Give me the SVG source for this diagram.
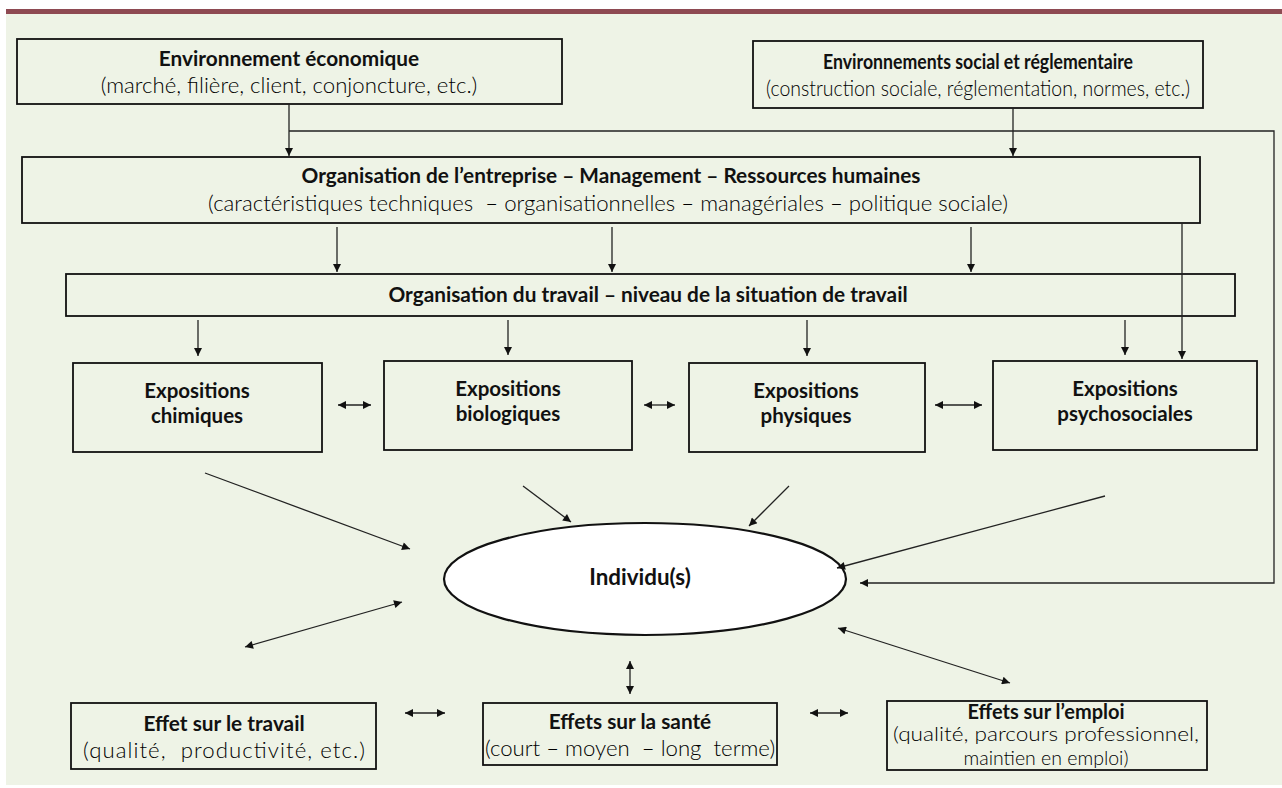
<svg xmlns="http://www.w3.org/2000/svg" width="1282" height="788" viewBox="0 0 1282 788">
<defs>
<style>
.bx{fill:none;stroke:#111;stroke-width:1.8}
.t{font-family:Lato,"Noto Sans",sans-serif;font-weight:bold;font-size:20.8px;fill:#111;text-anchor:middle}
.e{font-family:Lato,"Noto Sans",sans-serif;font-weight:bold;font-size:20.5px;fill:#111;text-anchor:middle}
.s{font-family:Lato,"Noto Sans",sans-serif;font-weight:300;font-size:22.2px;fill:#000;text-anchor:middle;white-space:pre}
.c{fill:none;stroke:#222;stroke-width:1.3}
</style>
<marker id="ah" viewBox="0 0 10 10" refX="10" refY="5" markerWidth="9" markerHeight="8" markerUnits="userSpaceOnUse" orient="auto-start-reverse">
<path d="M0,0 L10,5 L0,10 z" fill="#111"/>
</marker>
</defs>
<rect x="0" y="0" width="1282" height="788" fill="#ffffff"/>
<rect x="6" y="14" width="1276" height="771" fill="#eef3e6"/>
<rect x="6" y="9" width="1276" height="5" fill="#8e4a52"/>

<g id="env-eco">
<rect class="bx" x="17" y="39" width="545" height="65"/>
<text class="t" x="289" y="66">Environnement économique</text>
<text class="s" x="289" y="93">(marché, filière, client, conjoncture, etc.)</text>
</g>
<g id="env-social">
<rect class="bx" x="753" y="41" width="450" height="67"/>
<text class="t" x="978" y="69" textLength="310" lengthAdjust="spacingAndGlyphs">Environnements social et réglementaire</text>
<text class="s" x="978" y="96" textLength="424" lengthAdjust="spacingAndGlyphs">(construction sociale, réglementation, normes, etc.)</text>
</g>
<g id="org-entreprise">
<rect class="bx" x="22" y="157" width="1178" height="66"/>
<text class="t" x="611" y="183">Organisation de l’entreprise – Management – Ressources humaines</text>
<text class="s" x="608" y="211">(caractéristiques techniques  – organisationnelles – managériales – politique sociale)</text>
</g>
<g id="org-travail">
<rect class="bx" x="66" y="274" width="1169" height="42"/>
<text class="t" x="648" y="302">Organisation du travail – niveau de la situation de travail</text>
</g>
<g id="expo-chimiques">
<rect class="bx" x="73" y="363" width="249" height="89"/>
<text class="e" x="197" y="398">Expositions</text>
<text class="e" x="197" y="423">chimiques</text>
</g>
<g id="expo-biologiques">
<rect class="bx" x="384" y="361" width="248" height="89"/>
<text class="e" x="508" y="396">Expositions</text>
<text class="e" x="508" y="421">biologiques</text>
</g>
<g id="expo-physiques">
<rect class="bx" x="689" y="363" width="236" height="89"/>
<text class="e" x="806" y="398">Expositions</text>
<text class="e" x="806" y="423">physiques</text>
</g>
<g id="expo-psychosociales">
<rect class="bx" x="993" y="361" width="264" height="89"/>
<text class="e" x="1125" y="396">Expositions</text>
<text class="e" x="1125" y="421">psychosociales</text>
</g>
<g id="individus">
<ellipse cx="645" cy="579" rx="201" ry="56" fill="#ffffff" stroke="#111" stroke-width="2.2"/>
<text class="t" x="640" y="585" style="font-size:22.4px">Individu(s)</text>
</g>
<g id="effet-travail">
<rect class="bx" x="71" y="703" width="305" height="66"/>
<text class="t" x="224" y="731">Effet sur le travail</text>
<text class="s" x="224" y="758" textLength="282" lengthAdjust="spacing">(qualité,  productivité, etc.)</text>
</g>
<g id="effet-sante">
<rect class="bx" x="483" y="703" width="294" height="62"/>
<text class="t" x="630" y="729">Effets sur la santé</text>
<text class="s" x="630" y="756">(court – moyen  – long  terme)</text>
</g>
<g id="effet-emploi">
<rect class="bx" x="887" y="701" width="320" height="69"/>
<text class="t" x="1046" y="719" style="font-size:20px">Effets sur l’emploi</text>
<text class="s" x="1046" y="741" style="font-size:19.5px" textLength="306" lengthAdjust="spacingAndGlyphs">(qualité, parcours professionnel,</text>
<text class="s" x="1046" y="765" style="font-size:19.5px">maintien en emploi)</text>
</g>

<g id="connectors">
<path class="c" d="M289,104 V156" marker-end="url(#ah)"/>
<path class="c" d="M289,131 H1274 V583 H860" marker-end="url(#ah)"/>
<path class="c" d="M1013,108 V156" marker-end="url(#ah)"/>
<path class="c" d="M337,227 V272" marker-end="url(#ah)"/>
<path class="c" d="M612,227 V272" marker-end="url(#ah)"/>
<path class="c" d="M971,227 V272" marker-end="url(#ah)"/>
<path class="c" d="M1182,223 V359" marker-end="url(#ah)"/>
<path class="c" d="M198,320 V356" marker-end="url(#ah)"/>
<path class="c" d="M508,320 V355" marker-end="url(#ah)"/>
<path class="c" d="M807,320 V356" marker-end="url(#ah)"/>
<path class="c" d="M1125,320 V355" marker-end="url(#ah)"/>
<path class="c" d="M338,405 H371" marker-start="url(#ah)" marker-end="url(#ah)"/>
<path class="c" d="M644,405 H675" marker-start="url(#ah)" marker-end="url(#ah)"/>
<path class="c" d="M935,405 H982" marker-start="url(#ah)" marker-end="url(#ah)"/>
<path class="c" d="M205,473 L410,549" marker-end="url(#ah)"/>
<path class="c" d="M523,486 L571,522" marker-end="url(#ah)"/>
<path class="c" d="M789,486 L749,526" marker-end="url(#ah)"/>
<path class="c" d="M1105,496 L837,568" marker-end="url(#ah)"/>
<path class="c" d="M245,647 L402,602" marker-start="url(#ah)" marker-end="url(#ah)"/>
<path class="c" d="M630,661 V694" marker-start="url(#ah)" marker-end="url(#ah)"/>
<path class="c" d="M838,628 L1010,683" marker-start="url(#ah)" marker-end="url(#ah)"/>
<path class="c" d="M405,713 H445" marker-start="url(#ah)" marker-end="url(#ah)"/>
<path class="c" d="M810,713 H848" marker-start="url(#ah)" marker-end="url(#ah)"/>
</g>
</svg>
